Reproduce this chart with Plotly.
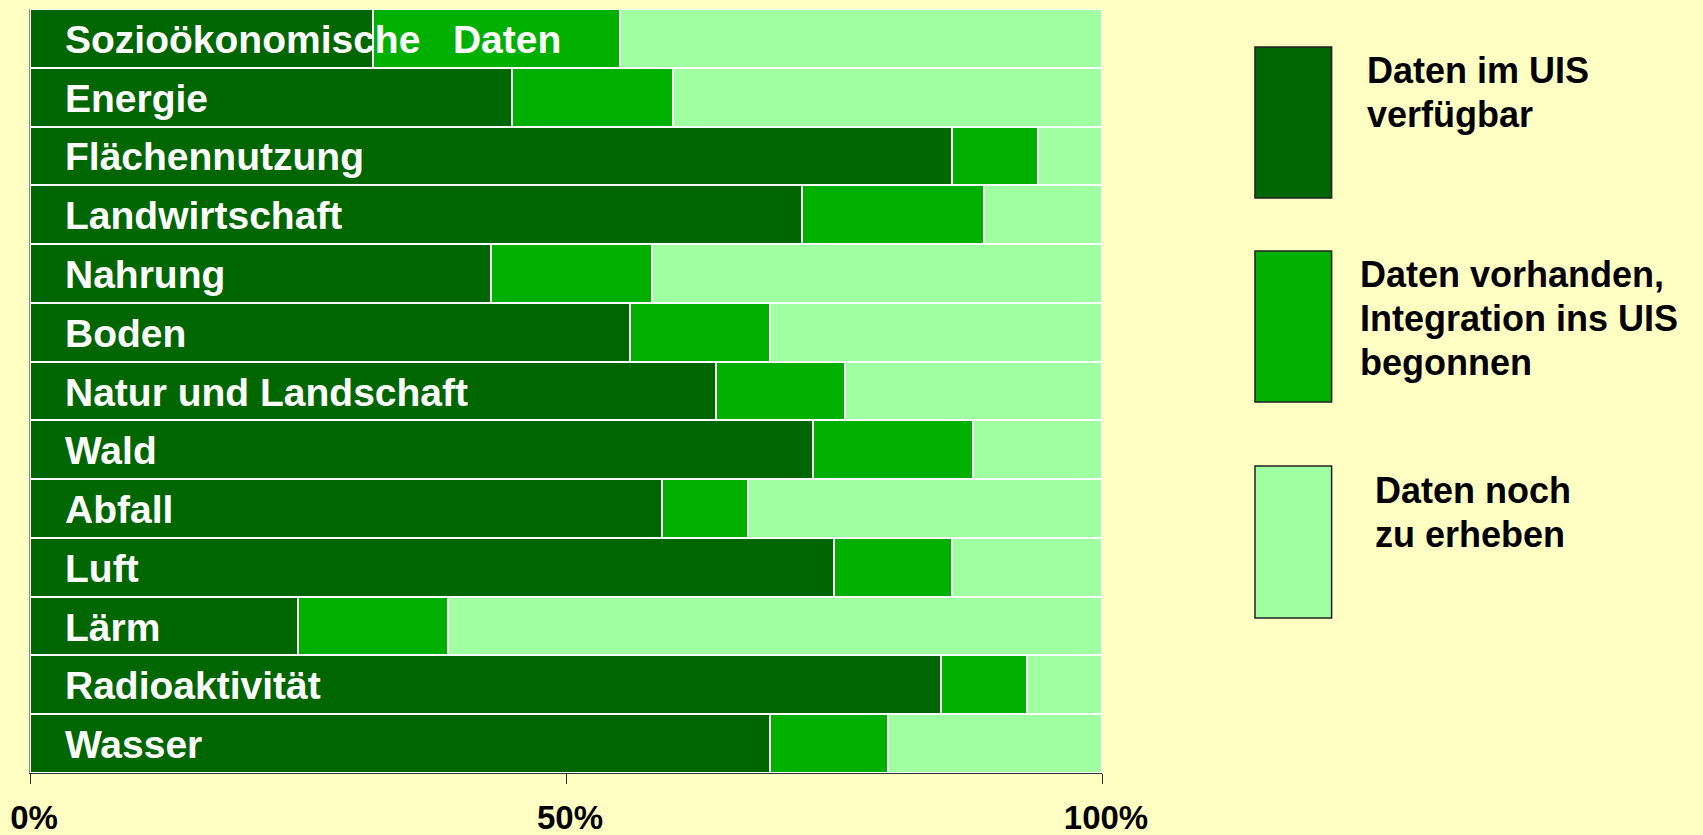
import plotly.graph_objects as go

categories = ["Sozioökonomische   Daten", "Energie", "Flächennutzung", "Landwirtschaft",
              "Nahrung", "Boden", "Natur und Landschaft", "Wald", "Abfall", "Luft",
              "Lärm", "Radioaktivität", "Wasser"]
verfuegbar = [32, 45, 86, 72, 43, 56, 64, 73, 59, 75, 25, 85, 69]
begonnen = [23, 15, 8, 17, 15, 13, 12, 15, 8, 11, 14, 8, 11]
zu_erheben = [100 - a - b for a, b in zip(verfuegbar, begonnen)]

series_names = ["Daten im UIS<br>verfügbar",
                "Daten vorhanden,<br>Integration ins UIS<br>begonnen",
                "Daten noch<br>zu erheben"]
series_values = [verfuegbar, begonnen, zu_erheben]
colors = ["#006600", "#00B000", "#A0FFA0"]
tick_vals = [0, 50, 100]
tick_text = ["0%", "50%", "100%"]

BG = "#FFFFC4"
FONT = "Liberation Sans, Arial, sans-serif"

fig = go.Figure()
for name, vals, col in zip(series_names, series_values, colors):
    fig.add_trace(go.Bar(
        y=categories, x=vals, orientation="h", name=name.replace("<br>", " "),
        marker=dict(color=col, line=dict(color="white", width=2)),
        showlegend=False, hoverinfo="x+y"))

# category labels inside bars
for cat in categories:
    fig.add_annotation(x=0, y=cat, xref="x", yref="y", text=cat, showarrow=False,
                       xanchor="left", yanchor="middle", xshift=33, yshift=-1,
                       font=dict(family=FONT, size=39, color="white", weight="bold"))

# custom legend at right (boxes + one annotation per text line)
legend_boxes = [(0.7526, 0.9503), (0.4856, 0.6832), (0.2029, 0.4018)]
legend_text_x = [1.2453, 1.2388, 1.2528]
legend_text_y0 = [0.9196, 0.6526, 0.3699]
line_step = 0.0576
for (y0, y1), tx, ty, name, col in zip(legend_boxes, legend_text_x, legend_text_y0,
                                        series_names, colors):
    fig.add_shape(type="rect", xref="paper", yref="paper", x0=1.1427, x1=1.2142,
                  y0=y0, y1=y1, fillcolor=col, line=dict(color="#222222", width=1.5))
    for i, line in enumerate(name.split("<br>")):
        fig.add_annotation(x=tx, y=ty - i * line_step, xref="paper", yref="paper",
                           text=line, showarrow=False, xanchor="left", yanchor="middle",
                           font=dict(family=FONT, size=36, color="black", weight="bold"))

fig.update_layout(
    barmode="stack", bargap=0,
    width=1703, height=835,
    margin=dict(l=30, r=601, t=9, b=62, autoexpand=False),
    paper_bgcolor=BG, plot_bgcolor=BG,
    xaxis=dict(range=[0, 100], tickvals=tick_vals, ticktext=tick_text,
               showgrid=False, zeroline=False, showline=True, linecolor="#333333",
               linewidth=1, ticks="outside", ticklen=10, tickcolor="#333333",
               ticklabelstandoff=5, ticklabelshift=4, ticklabeloverflow="allow",
               automargin=False,
               tickfont=dict(family=FONT, size=33, color="black", weight="bold")),
    xaxis2=dict(range=[0, 100], overlaying="x", side="top", tickvals=[50],
                showticklabels=False, ticks="outside", ticklen=8, tickcolor="#333333",
                showgrid=False, zeroline=False, showline=False, automargin=False),
    yaxis=dict(autorange="reversed", showticklabels=False, showgrid=False,
               zeroline=False, showline=True, linecolor="#888888", linewidth=1, ticks="",
               automargin=False),
)

fig.write_html("out.html", config={"displayModeBar": False},
               post_script="document.body.style.margin='0';document.body.style.overflow='hidden';")
